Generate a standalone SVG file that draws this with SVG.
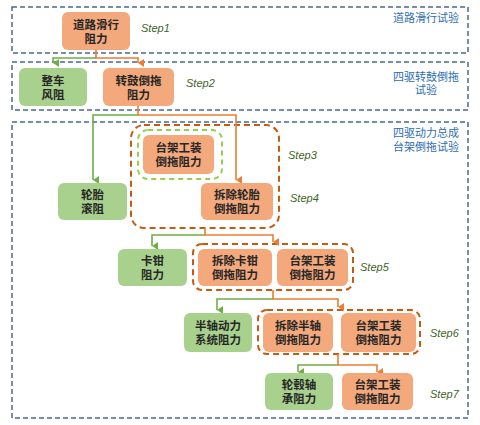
<svg xmlns="http://www.w3.org/2000/svg" width="480" height="425" viewBox="0 0 480 425">
<defs>
<marker id="ag" markerWidth="8" markerHeight="8" refX="4" refY="6" orient="auto" markerUnits="userSpaceOnUse" viewBox="0 0 8 8">
<path d="M0,0 L8,0 L4,6 Z" fill="#70ad47"/>
</marker>
<marker id="ao" markerWidth="8" markerHeight="8" refX="4" refY="6" orient="auto" markerUnits="userSpaceOnUse" viewBox="0 0 8 8">
<path d="M0,0 L8,0 L4,6 Z" fill="#ed7d31"/>
</marker>
<style>
.sec{fill:none;stroke:#4a6793;stroke-width:1.5;stroke-dasharray:5 3}
.seclbl{font-family:"Liberation Sans","Noto Sans CJK SC",sans-serif;font-size:11px;fill:#2e6eb0;text-anchor:middle}
.o{fill:#f4a97d}
.g{fill:#a9d18e}
.t{font-family:"Liberation Sans","Noto Sans CJK SC",sans-serif;font-size:11.5px;font-weight:bold;fill:#262626;text-anchor:middle}
.step{font-family:"Liberation Sans",sans-serif;font-size:11px;font-style:italic;fill:#3f6424}
.grp{fill:none;stroke:#c55a11;stroke-width:2;stroke-dasharray:6 4}
.grpg{fill:none;stroke:#92d050;stroke-width:2;stroke-dasharray:5 4}
.lg{fill:none;stroke:#70ad47;stroke-width:1.6}
.lo{fill:none;stroke:#ed7d31;stroke-width:1.6}
</style>
</defs>
<rect width="480" height="425" fill="#ffffff"/>

<g id="sections">
<rect class="sec" x="12" y="7" width="456" height="46"/>
<rect class="sec" x="12" y="62" width="456" height="48"/>
<rect class="sec" x="12" y="122" width="456" height="296"/>
<text class="seclbl" x="426" y="22">道路滑行试验</text>
<text class="seclbl"><tspan x="426" y="81">四驱转鼓倒拖</tspan><tspan x="426" y="94">试验</tspan></text>
<text class="seclbl"><tspan x="426" y="137">四驱动力总成</tspan><tspan x="426" y="151">台架倒拖试验</tspan></text>
</g>

<g id="groups">
<rect class="grp" x="131" y="125" width="148" height="103" rx="13"/>
<rect class="grpg" x="138" y="130" width="84" height="49" rx="10"/>
<rect class="grp" x="193" y="244" width="160" height="46" rx="9"/>
<rect class="grp" x="258" y="310" width="162" height="44" rx="9"/>
</g>

<g id="connectors">
<path class="lo" d="M96,50 V58 H138 V63" marker-end="url(#ao)"/>
<path class="lg" d="M96,58 H53 V63" marker-end="url(#ag)"/>
<path class="lo" d="M138,106 V115 H236 V180" marker-end="url(#ao)"/>
<path class="lg" d="M138,115 H93 V180" marker-end="url(#ag)"/>
<path class="lo" d="M205,228 V235 H273 V242" marker-end="url(#ao)"/>
<path class="lg" d="M205,235 H152 V246" marker-end="url(#ag)"/>
<path class="lo" d="M273,290 V299 H338 V307" marker-end="url(#ao)"/>
<path class="lg" d="M273,299 H217 V310" marker-end="url(#ag)"/>
<path class="lo" d="M338,354 V365 H377 V372" marker-end="url(#ao)"/>
<path class="lg" d="M338,365 H298 V372" marker-end="url(#ag)"/>
</g>

<g id="n1"><rect class="o" x="62" y="12" width="68" height="38" rx="6"/><text class="t"><tspan x="96" y="29">道路滑行</tspan><tspan x="96" y="43">阻力</tspan></text></g>
<g id="n2"><rect class="g" x="19" y="68" width="68" height="38" rx="6"/><text class="t"><tspan x="53" y="85">整车</tspan><tspan x="53" y="99">风阻</tspan></text></g>
<g id="n3"><rect class="o" x="103" y="68" width="71" height="38" rx="6"/><text class="t"><tspan x="138.5" y="85">转鼓倒拖</tspan><tspan x="138.5" y="99">阻力</tspan></text></g>
<g id="n4"><rect class="g" x="58" y="183" width="69" height="37" rx="6"/><text class="t"><tspan x="92.5" y="199">轮胎</tspan><tspan x="92.5" y="213">滚阻</tspan></text></g>
<g id="n5"><rect class="o" x="143" y="135" width="71" height="39" rx="6"/><text class="t"><tspan x="178.5" y="152">台架工装</tspan><tspan x="178.5" y="166">倒拖阻力</tspan></text></g>
<g id="n6"><rect class="o" x="201" y="183" width="72" height="37" rx="6"/><text class="t"><tspan x="237" y="199">拆除轮胎</tspan><tspan x="237" y="213">倒拖阻力</tspan></text></g>
<g id="n7"><rect class="g" x="118" y="249" width="69" height="37" rx="6"/><text class="t"><tspan x="152.5" y="265">卡钳</tspan><tspan x="152.5" y="279">阻力</tspan></text></g>
<g id="n8"><rect class="o" x="198" y="249" width="74" height="37" rx="6"/><text class="t"><tspan x="235" y="265">拆除卡钳</tspan><tspan x="235" y="279">倒拖阻力</tspan></text></g>
<g id="n9"><rect class="o" x="277" y="249" width="71" height="37" rx="6"/><text class="t"><tspan x="312.5" y="265">台架工装</tspan><tspan x="312.5" y="279">倒拖阻力</tspan></text></g>
<g id="n10"><rect class="g" x="184" y="313" width="68" height="39" rx="6"/><text class="t"><tspan x="218" y="330">半轴动力</tspan><tspan x="218" y="344">系统阻力</tspan></text></g>
<g id="n11"><rect class="o" x="263" y="313" width="70" height="39" rx="6"/><text class="t"><tspan x="298" y="330">拆除半轴</tspan><tspan x="298" y="344">倒拖阻力</tspan></text></g>
<g id="n12"><rect class="o" x="341" y="313" width="75" height="39" rx="6"/><text class="t"><tspan x="378.5" y="330">台架工装</tspan><tspan x="378.5" y="344">倒拖阻力</tspan></text></g>
<g id="n13"><rect class="g" x="265" y="373" width="68" height="37" rx="6"/><text class="t"><tspan x="299" y="389">轮毂轴</tspan><tspan x="299" y="403">承阻力</tspan></text></g>
<g id="n14"><rect class="o" x="342" y="373" width="71" height="37" rx="6"/><text class="t"><tspan x="377.5" y="389">台架工装</tspan><tspan x="377.5" y="403">倒拖阻力</tspan></text></g>

<g id="steps">
<text class="step" x="141" y="32">Step1</text>
<text class="step" x="186" y="87">Step2</text>
<text class="step" x="288" y="159">Step3</text>
<text class="step" x="290" y="202">Step4</text>
<text class="step" x="360" y="271">Step5</text>
<text class="step" x="430" y="337">Step6</text>
<text class="step" x="430" y="398">Step7</text>
</g>
</svg>
